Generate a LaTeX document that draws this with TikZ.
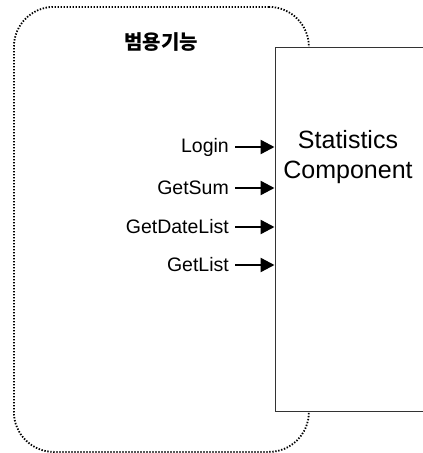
\documentclass[tikz,border=0pt]{standalone}
\usepackage{fontspec}
\setmainfont{Liberation Sans}
\newfontfamily\krfont{Noto Sans CJK KR}
\usetikzlibrary{arrows.meta}

\tikzset{
  x=1pt, y=1pt,
  region/.style={draw=black, line width=1.8pt, dash pattern=on 1.4pt off 1.6pt,
    rounded corners=40pt, minimum width=295pt, minimum height=445pt,
    anchor=north west, inner sep=0pt},
  compbox/.style={draw=black!80, fill=white, line width=1pt,
    minimum width=170pt, minimum height=364pt, anchor=north west, inner sep=0pt},
  oplabel/.style={anchor=east, font=\fontsize{19.5}{23}\selectfont, inner sep=0pt},
  callarrow/.style={line width=2.4pt, -{Triangle[length=14pt,width=14pt]}, shorten >=0.5pt},
}

\begin{document}
\begin{tikzpicture}
  \useasboundingbox (0,0) rectangle (423,-453);
  \clip (0,0) rectangle (423,-453);

  % dotted boundary of the shared-function area
  \node (region) [region] at (13,-6) {};
  \node (title) at (161,-42) {\krfont\bfseries\fontsize{20}{22}\selectfont 범용기능};

  % component box
  \node (comp) [compbox] at (275,-47) {};
  \node (compname) [align=center, font=\fontsize{25}{30}\selectfont, inner sep=0pt]
    at (348,-157) {Statistics\\Component};

  % operations offered to the component
  \node (login)   [oplabel] at (229,-147) {Login};
  \node (getsum)  [oplabel] at (229,-188) {GetSum};
  \node (getdate) [oplabel] at (229,-227) {GetDateList};
  \node (getlist) [oplabel] at (229,-265) {GetList};

  \foreach \op in {login,getsum,getdate,getlist}
    \draw[callarrow] ([xshift=6pt]\op.east) -- (comp.west |- \op.east);
\end{tikzpicture}
\end{document}
